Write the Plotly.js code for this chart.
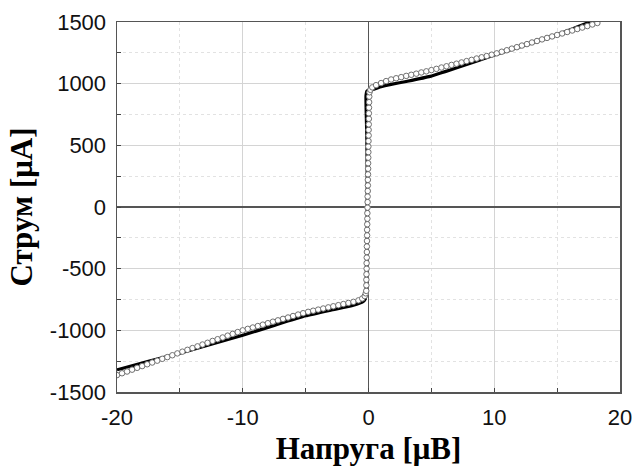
<!DOCTYPE html>
<html>
<head>
<meta charset="utf-8">
<script src="https://cdn.plot.ly/plotly-3.0.1.min.js"></script>
<style>html,body{margin:0;padding:0;background:#fff;}#chart{width:635px;height:466px;}</style>
</head>
<body>
<div id="chart"></div>
<script>
// Filled (black) series: voltage [μV] and current [μA]
const blackX = [-20, -17.5, -15, -12.5, -10, -7.5, -5, -3, -1.2, -0.5, -0.25, -0.18, -0.12, -0.1, -0.14, -0.2, -0.12, 0.1, 0.3, 1.0, 1.7, 3.0, 4.9, 7.5, 10, 13, 15.3, 17.6];
const blackY = [-1320, -1252, -1185, -1112, -1040, -960, -882, -836, -796, -772, -745, -600, -200, 200, 600, 900, 940, 950, 951, 975, 992, 1018, 1059, 1145, 1232, 1330, 1408, 1500];

// Open-circle series: voltage [μV] and current [μA]
const circX = [
  -20, -19.6, -19.2, -18.8, -18.4, -18.0, -17.6, -17.2, -16.8, -16.4, -16.0, -15.6, -15.2,
  -14.8, -14.4, -14.0, -13.6, -13.2, -12.8, -12.4, -12.0, -11.6, -11.2, -10.8, -10.4, -10.0,
  -9.6, -9.2, -8.8, -8.4, -8.0, -7.6, -7.2, -6.8, -6.4, -6.0, -5.6, -5.2,
  -4.8, -4.4, -4.0, -3.6, -3.2, -2.8, -2.4, -2.0, -1.6, -1.2, -0.8, -0.5, -0.3, -0.22,
  -0.18, -0.17, -0.17, -0.16, -0.15, -0.15, -0.14, -0.13, -0.13, -0.12, -0.11, -0.11, -0.1,
  -0.09, -0.09, -0.08, -0.07, -0.07, -0.06, -0.05, -0.05, -0.04, -0.03, -0.03, -0.02, -0.01,
  -0.01, 0, 0.01, 0.01, 0.02, 0.03, 0.03, 0.04, 0.05, 0.06, 0.08,
  0.15, 0.3, 0.6, 1.0, 1.4, 1.8, 2.2, 2.6, 3.0, 3.4, 3.8, 4.2, 4.6, 5.0, 5.4, 5.8, 6.2, 6.6,
  7.0, 7.4, 7.8, 8.2, 8.6, 9.0, 9.4, 9.8, 10.2, 10.6, 11.0, 11.4, 11.8, 12.2, 12.6, 13.0,
  13.4, 13.8, 14.2, 14.6, 15.0, 15.4, 15.8, 16.2, 16.6, 17.0, 17.4, 17.8, 18.2
];
const circY = [
  -1363, -1348, -1334, -1319, -1304, -1290, -1275, -1261, -1246, -1231, -1217, -1202, -1187,
  -1173, -1158, -1144, -1130, -1115, -1101, -1086, -1072, -1058, -1043, -1029, -1014, -1000,
  -988, -977, -965, -954, -942, -930, -919, -907, -896, -884, -872, -861,
  -850, -841, -832, -823, -814, -805, -796, -787, -778, -769, -757, -742, -722, -700,
  -680, -635, -590, -545, -500, -455, -410, -365, -320, -275, -230, -185, -140,
  -95, -50, -5, 40, 85, 130, 175, 220, 265, 310, 355, 400, 445,
  490, 535, 580, 625, 670, 715, 760, 805, 850, 895, 930,
  950, 970, 988, 1005, 1021, 1034, 1044, 1053, 1063, 1072, 1081, 1091, 1100, 1110, 1120, 1131, 1141, 1152,
  1162, 1172, 1183, 1193, 1204, 1214, 1224, 1235, 1246, 1259, 1271, 1284, 1296, 1309, 1321, 1334,
  1346, 1359, 1371, 1383, 1395, 1407, 1419, 1431, 1443, 1455, 1467, 1480, 1492
];

// Tick labels (ASCII hyphen as in the original)
const xTickVals = [-20, -10, 0, 10, 20];
const xTickText = ['-20', '-10', '0', '10', '20'];
const yTickVals = [-1500, -1000, -500, 0, 500, 1000, 1500];
const yTickText = ['-1500', '-1000', '-500', '0', '500', '1000', '1500'];

const xTitle = 'Напруга [μB]';
const yTitle = 'Струм [μA]';

const traces = [
  {
    x: blackX, y: blackY, type: 'scatter', mode: 'lines',
    line: {color: '#000', width: 3.2, shape: 'spline', smoothing: 0.4},
    hoverinfo: 'skip', showlegend: false
  },
  {
    x: circX, y: circY, type: 'scatter', mode: 'markers',
    marker: {symbol: 'circle', size: 5.5, color: '#fff', line: {color: '#707070', width: 1}},
    hoverinfo: 'skip', showlegend: false
  }
];

const tickFont = {family: '"Liberation Sans", Arial, sans-serif', size: 22, color: '#111'};
const titleFont = {family: '"Liberation Serif", "Times New Roman", serif', size: 31, color: '#000', weight: 'bold'};

const layout = {
  width: 635, height: 466,
  margin: {l: 117, r: 15, t: 22, b: 74, pad: 0},
  paper_bgcolor: '#fff', plot_bgcolor: '#fff',
  showlegend: false,
  xaxis: {
    range: [-20, 20], tickmode: 'array', tickvals: xTickVals, ticktext: xTickText,
    ticks: 'inside', ticklen: 4, tickwidth: 1, tickcolor: '#444',
    showline: true, linecolor: '#555', linewidth: 1.5, mirror: true,
    showgrid: true, gridcolor: '#d4d4d4', gridwidth: 1,
    zeroline: true, zerolinecolor: '#555', zerolinewidth: 1.5,
    minor: {dtick: 5, tick0: 0, ticks: 'inside', ticklen: 4, tickcolor: '#444', showgrid: true, gridcolor: '#e2e2e2', griddash: 'dot', gridwidth: 1},
    tickfont: tickFont, ticklabelstandoff: 5,
    title: {text: xTitle, font: titleFont, standoff: 10},
    automargin: false, fixedrange: true
  },
  yaxis: {
    range: [-1500, 1500], tickmode: 'array', tickvals: yTickVals, ticktext: yTickText,
    ticks: 'inside', ticklen: 4, tickwidth: 1, tickcolor: '#444',
    showline: true, linecolor: '#555', linewidth: 1.5, mirror: true,
    showgrid: true, gridcolor: '#d4d4d4', gridwidth: 1,
    zeroline: true, zerolinecolor: '#555', zerolinewidth: 1.5,
    minor: {dtick: 250, tick0: 0, ticks: 'inside', ticklen: 4, tickcolor: '#444', showgrid: true, gridcolor: '#e2e2e2', griddash: 'dot', gridwidth: 1},
    tickfont: tickFont, ticklabelstandoff: 5,
    title: {text: yTitle, font: titleFont, standoff: 8},
    automargin: false, fixedrange: true
  }
};

Plotly.newPlot('chart', traces, layout, {displayModeBar: false, staticPlot: true});
</script>
</body>
</html>
